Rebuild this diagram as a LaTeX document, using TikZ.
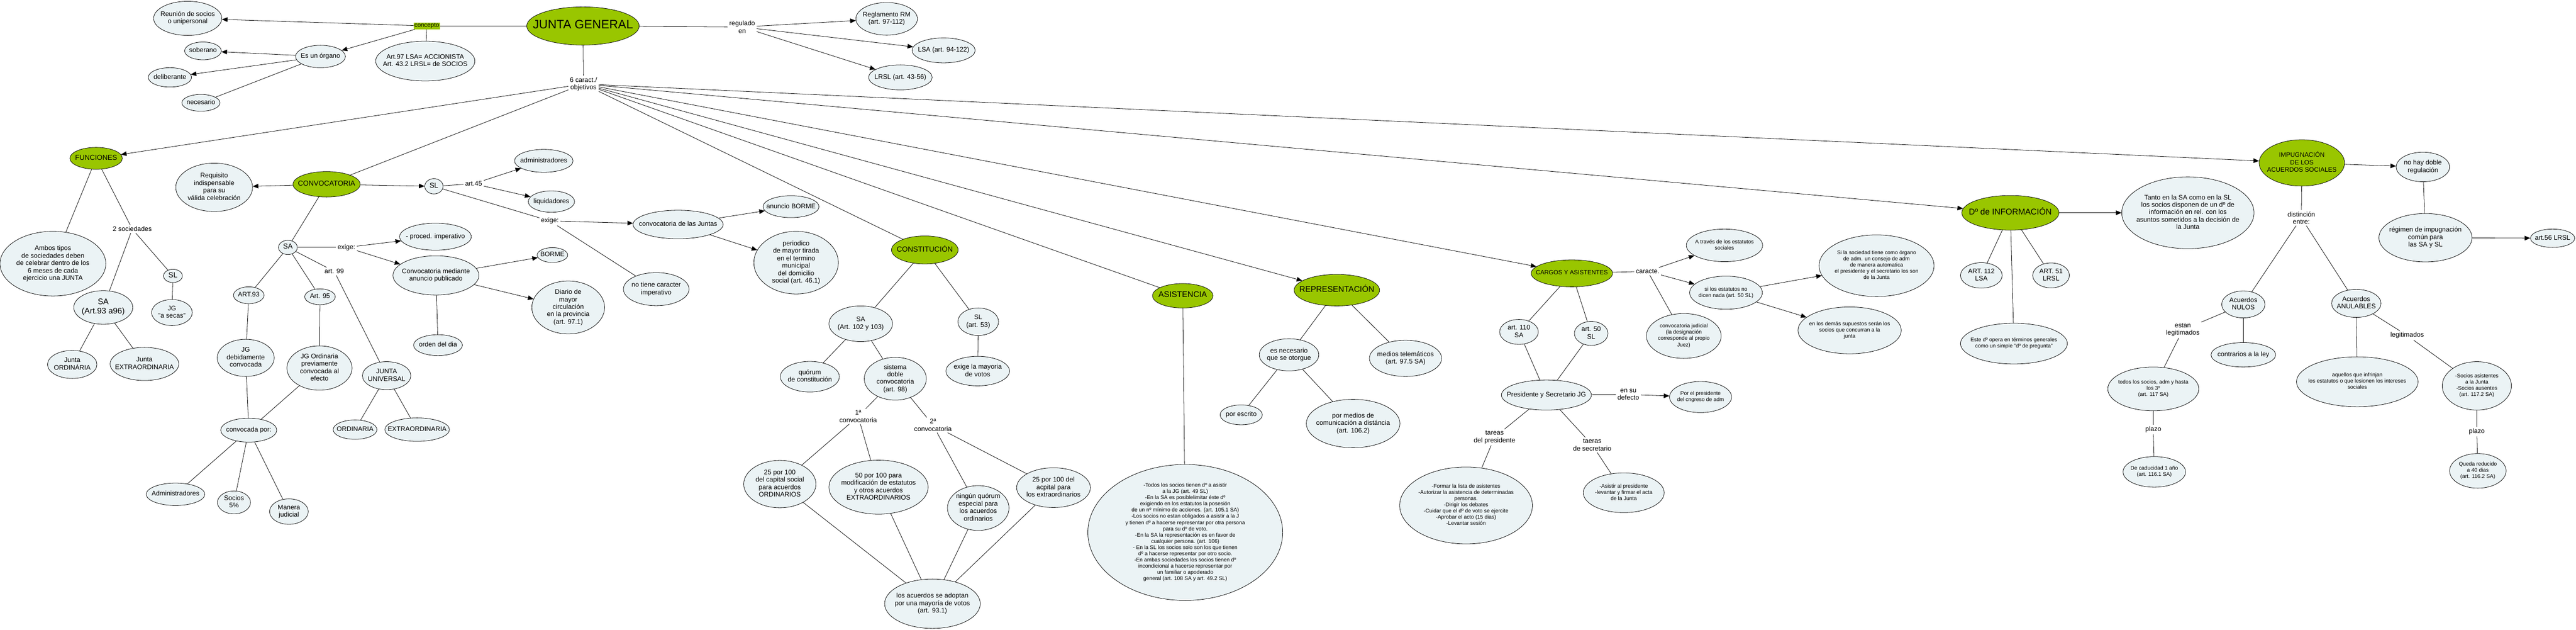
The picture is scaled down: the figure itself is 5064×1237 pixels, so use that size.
\documentclass[tikz,border=0pt]{standalone}
\usepackage{fontspec}
\setmainfont{Liberation Sans}
\usetikzlibrary{shapes.geometric,arrows.meta}
\definecolor{gr}{RGB}{153,198,0}
\definecolor{nb}{RGB}{235,243,245}
\newcommand\tx[1]{\makebox[0pt]{\smash{\raisebox{-0.25em}{\begin{tabular}{@{}c@{}}#1\end{tabular}}}}}
\begin{document}
\begin{tikzpicture}[x=1pt,y=-1pt,
  cn/.style={ellipse,draw,fill=nb,inner sep=0pt,line width=0.8pt,font=\fontsize{13}{14.6}\selectfont},
  gn/.style={cn,fill=gr},
  sm/.style={font=\fontsize{10.5}{12.2}\selectfont},
  wh/.style 2 args={minimum width=#1pt,minimum height=#2pt},
  lb/.style={inner sep=3pt,align=center,font=\fontsize{13}{14.6}\selectfont},
  ln/.style={line width=0.8pt},
  ar/.style={ln,-{Triangle[length=11pt,width=9pt]}}]
\useasboundingbox (0,0) rectangle (5064,1237);
\fill[white] (0,0) rectangle (5064,1237);
% ---------- green nodes
\node[gn,wh={221}{75},font=\fontsize{24}{26}\selectfont] (jg) at (1146,51) {\tx{JUNTA GENERAL}};
\node[gn,wh={103}{43},font=\fontsize{14}{16}\selectfont] (fun) at (189,311) {\tx{FUNCIONES}};
\node[gn,wh={132}{50},font=\fontsize{14}{16}\selectfont] (conv) at (642,362) {\tx{CONVOCATORIA}};
\node[gn,wh={131}{55},font=\fontsize{14.5}{16}\selectfont] (cons) at (1818,491) {\tx{CONSTITUCIÓN}};
\node[gn,wh={119}{48},font=\fontsize{16}{18}\selectfont] (asis) at (2325,581) {\tx{ASISTENCIA}};
\node[gn,wh={168}{62},font=\fontsize{16}{18}\selectfont] (rep) at (2628,570) {\tx{REPRESENTACIÓN}};
\node[gn,wh={160}{53},font=\fontsize{12}{14}\selectfont] (cargos) at (3090,537) {\tx{CARGOS Y ASISTENTES}};
\node[gn,wh={191}{68},font=\fontsize{16.5}{18}\selectfont] (info) at (3952,418) {\tx{Dº de INFORMACIÓN}};
\node[gn,wh={168}{91},font=\fontsize{12.5}{14.8}\selectfont] (imp) at (4525,320) {\tx{IMPUGNACIÓN\\DE LOS\\ACUERDOS SOCIALES}};
% ---------- labels
\node[lb,fill=gr,inner sep=1.5pt,font=\fontsize{12}{13}\selectfont] (lconc) at (839,51) {concepto};
\node[lb] (lreg) at (1459,53) {regulado\\en};
\node[lb] (lcar) at (1147,165) {6 caract./\\objetivos};
\node[lb] (l2soc) at (260,450) {2 sociedades};
\node[lb] (lexsa) at (681,486) {exige:};
\node[lb] (lart99) at (657,533) {art. 99};
\node[lb] (lart45) at (931,361) {art.45};
\node[lb] (lexsl) at (1081,434) {exige:};
\node[lb] (l1c) at (1687,818) {1ª\\convocatoria};
\node[lb] (l2c) at (1834,835) {2ª\\convocatoria};
\node[lb] (lcaracte) at (3239,533) {caracte.};
\node[lb] (ldef) at (3201,775) {en su\\defecto};
\node[lb] (ltp) at (2938,859) {tareas\\del presidente};
\node[lb] (lts) at (3130,874) {taeras\\de secretario};
\node[lb] (ldist) at (4524,428) {distinción\\entre:};
\node[lb] (lestan) at (4291,648) {estan\\legitimados};
\node[lb] (lleg) at (4732,659) {legitimados};
\node[lb] (lpl1) at (4233,844) {plazo};
\node[lb] (lpl2) at (4869,848) {plazo};
% ---------- concept / regulation
\node[cn,wh={134}{67}] (reu) at (369,36) {\tx{Reunión de socios\\o unipersonal}};
\node[cn,wh={98}{44}] (org) at (630,111) {\tx{Es un órgano}};
\node[cn,wh={72}{35}] (sob) at (399,100) {\tx{soberano}};
\node[cn,wh={85}{38}] (del) at (334,152) {\tx{deliberante}};
\node[cn,wh={75}{33}] (nec) at (395,202) {\tx{necesario}};
\node[cn,wh={195}{78}] (art97) at (836,120) {\tx{Art.97 LSA= ACCIONISTA\\Art. 43.2 LRSL= de SOCIOS}};
\node[cn,wh={121}{64}] (rrm) at (1743,37) {\tx{Reglamento RM\\(art. 97-112)}};
\node[cn,wh={124}{49}] (lsa) at (1855,99) {\tx{LSA (art. 94-122)}};
\node[cn,wh={125}{49}] (lrsl) at (1770,152) {\tx{LRSL (art. 43-56)}};
% ---------- funciones
\node[cn,wh={208}{127}] (ambos) at (104,518) {\tx{Ambos tipos\\de sociedades deben\\de celebrar dentro de los\\6 meses de cada\\ejercicio una JUNTA}};
\node[cn,wh={37}{26},font=\fontsize{14.5}{16}\selectfont] (slf) at (340,542) {\tx{SL}};
\node[cn,wh={116}{66},font=\fontsize{16}{18}\selectfont] (saf) at (203,604) {\tx{SA\\(Art.93 a96)}};
\node[cn,wh={80}{51}] (jgs) at (338,614) {\tx{JG\\"a secas"}};
\node[cn,wh={97}{55}] (jord) at (142,716) {\tx{Junta\\ORDINÁRIA}};
\node[cn,wh={135}{65}] (jext) at (284,715) {\tx{Junta\\EXTRAORDINARIA}};
% ---------- convocatoria
\node[cn,wh={151}{95}] (req) at (421,368) {\tx{Requisito\\indispensable\\para su\\válida celebración}};
\node[cn,wh={36}{30},font=\fontsize{14}{16}\selectfont] (slc) at (853,366) {\tx{SL}};
\node[cn,wh={37}{28},font=\fontsize{14}{16}\selectfont] (sac) at (566,486) {\tx{SA}};
\node[cn,wh={141}{53}] (proc) at (856,465) {\tx{- proced. imperativo}};
\node[cn,wh={169}{77}] (cmed) at (857,541) {\tx{Convocatoria mediante\\anuncio publicado}};
\node[cn,wh={60}{33}] (a93) at (489,580) {\tx{ART.93}};
\node[cn,wh={60}{31}] (a95) at (629,583) {\tx{Art. 95}};
\node[cn,wh={112}{73}] (jgdeb) at (483,703) {\tx{JG\\debidamente\\convocada}};
\node[cn,wh={128}{87}] (jgord) at (628,723) {\tx{JG Ordinaria\\previamente\\convocada al\\efecto}};
\node[cn,wh={95}{55}] (juni) at (760,738) {\tx{JUNTA\\UNIVERSAL}};
\node[cn,wh={110}{47}] (cpor) at (489,845) {\tx{convocada por:}};
\node[cn,wh={86}{38}] (ord) at (698,844) {\tx{ORDINARIA}};
\node[cn,wh={127}{46}] (ext) at (820,844) {\tx{EXTRAORDINARIA}};
\node[cn,wh={115}{44}] (adm2) at (345,971) {\tx{Administradores}};
\node[cn,wh={65}{45}] (soc5) at (460,987) {\tx{Socios\\5\%}};
\node[cn,wh={76}{50}] (jud) at (568,1005) {\tx{Manera\\judicial}};
\node[cn,wh={115}{45}] (adm) at (1069,316) {\tx{administradores}};
\node[cn,wh={91}{42}] (liq) at (1084,396) {\tx{liquidadores}};
\node[cn,wh={177}{56}] (cjun) at (1333,441) {\tx{convocatoria de las Juntas}};
\node[cn,wh={110}{43}] (aborme) at (1555,406) {\tx{anuncio BORME}};
\node[cn,wh={166}{123}] (per) at (1565,516) {\tx{periodico\\de mayor tirada\\en el termino\\municipal\\del domicilio\\social (art. 46.1)}};
\node[cn,wh={129}{65}] (noimp) at (1290,568) {\tx{no tiene caracter\\imperativo}};
\node[cn,wh={60}{29}] (borme) at (1086,501) {\tx{BORME}};
\node[cn,wh={143}{104}] (diario) at (1117,604) {\tx{Diario de\\mayor\\circulación\\en la provincia\\(art. 97.1)}};
\node[cn,wh={96}{41}] (odia) at (861,678) {\tx{orden del dia}};
% ---------- constitucion
\node[cn,wh={125}{70}] (sacons) at (1692,636) {\tx{SA\\(Art. 102 y 103)}};
\node[cn,wh={80}{54}] (slcons) at (1923,632) {\tx{SL\\(art. 53)}};
\node[cn,wh={125}{58}] (exmay) at (1922,729) {\tx{exige la mayoria\\de votos}};
\node[cn,wh={116}{60}] (quor) at (1592,740) {\tx{quórum\\de constitución}};
\node[cn,wh={122}{84}] (sist) at (1760,744) {\tx{sistema\\doble\\convocatoria\\(art. 98)}};
\node[cn,wh={142}{93}] (q25) at (1533,951) {\tx{25 por 100\\del capital social\\para acuerdos\\ORDINARIOS}};
\node[cn,wh={195}{106}] (q50) at (1727,957) {\tx{50 por 100 para\\modificación de estatutos\\y otros acuerdos\\EXTRAORDINARIOS}};
\node[cn,wh={121}{88}] (qnin) at (1923,998) {\tx{ningún quórum\\especial para\\los acuerdos\\ordinarios}};
\node[cn,wh={145}{78}] (q25e) at (2071,958) {\tx{25 por 100 del\\acpital para\\los extraordinarios}};
\node[cn,wh={188}{97}] (acu) at (1833,1186) {\tx{los acuerdos se adoptan\\por una mayoría de votos\\(art. 93.1)}};
% ---------- asistencia
\node[cn,sm,wh={383}{267}] (todos) at (2330,1046) {\tx{-Todos los socios tienen dº a asistir\\a la JG (art. 49 SL)\\-En la SA es posiblelimitar éste dº\\exigiendo en los estatutos la posesión\\de un nº mínimo de acciones. (art. 105.1 SA)\\-Los socios no estan obligados a asistir a la J\\y tienen dº a hacerse representar por otra persona\\para su dº de voto.\\-En la SA la representación es en favor de\\cualquier persona. (art. 106)\\- En la SL los socios solo son los que tienen\\dº a hacerse representar por otro socio.\\-En ambas sociedades los socios tienen dº\\incondicional a hacerse representar por\\un familiar o apoderado\\general (art. 108 SA y art. 49.2 SL)}};
% ---------- representacion
\node[cn,wh={117}{63}] (nec2) at (2534,697) {\tx{es necesario\\que se otorgue}};
\node[cn,wh={83}{39}] (escr) at (2440,815) {\tx{por escrito}};
\node[cn,wh={142}{71}] (tele) at (2763,704) {\tx{medios telemáticos\\(art. 97.5 SA)}};
\node[cn,wh={184}{95}] (dist) at (2660,832) {\tx{por medios de\\comunicación a distáncia\\(art. 106.2)}};
% ---------- cargos
\node[cn,wh={76}{49}] (a110) at (2986,652) {\tx{art. 110\\SA}};
\node[cn,wh={66}{47}] (a50) at (3128,655) {\tx{art. 50\\SL}};
\node[cn,sm,wh={147}{88}] (cjud) at (3310,660) {\tx{convocatoria judicial\\(la designación\\corresponde al propio\\Juez)}};
\node[cn,wh={177}{59}] (pres) at (3040,776) {\tx{Presidente y Secretario JG}};
\node[cn,sm,wh={122}{61}] (ppres) at (3343,780) {\tx{Por el presidente\\del cngreso de adm}};
\node[cn,sm,wh={261}{151}] (tpres) at (2882,993) {\tx{-Formar la lista de asistentes\\-Autorizar la asistencia de determinadas\\personas.\\-Dirigir los debates\\-Cuidar que el dº de voto se ejercite\\-Aprobar el acto (15 dias)\\-Levantar sesión}};
\node[cn,sm,wh={159}{78}] (tsec) at (3192,968) {\tx{-Asistir al presidente\\-levantar y firmar el acta\\de la Junta}};
\node[cn,sm,wh={150}{64}] (atra) at (3390,482) {\tx{A través de los estatutos\\sociales}};
\node[cn,sm,wh={143}{65}] (silos) at (3393,575) {\tx{si los estatutos no\\dicen nada (art. 50 SL)}};
\node[cn,sm,wh={226}{121}] (sisoc) at (3689,522) {\tx{Si la sociedad tiene como órgano\\de adm. un consejo de adm\\de manera automatica\\el presidente y el secretario los son\\de la Junta}};
\node[cn,sm,wh={203}{92}] (demas) at (3636,649) {\tx{en los demás supuestos serán los\\socios que concurran a la\\junta}};
% ---------- informacion
\node[cn,wh={82}{50}] (a112) at (3895,541) {\tx{ART. 112\\LSA}};
\node[cn,wh={72}{49}] (a51) at (4032,541) {\tx{ART. 51\\LRSL}};
\node[cn,sm,wh={210}{80}] (este) at (3959,675) {\tx{Este dº opera en términos generales\\como un simple "dº de pregunta"}};
\node[cn,wh={260}{141}] (tanto) at (4301,418) {\tx{Tanto en la SA como en la SL\\los socios disponen de un dº de\\información en rel. con los\\asuntos sometidos a la decisión de\\la Junta}};
% ---------- impugnacion
\node[cn,wh={105}{58}] (nodob) at (4763,328) {\tx{no hay doble\\regulación}};
\node[cn,wh={183}{95}] (reg) at (4768,467) {\tx{régimen de impugnación\\común para\\las SA y SL}};
\node[cn,wh={87}{36}] (a56) at (5018,468) {\tx{art.56 LRSL}};
\node[cn,wh={85}{53}] (nul) at (4410,598) {\tx{Acuerdos\\NULOS}};
\node[cn,wh={97}{55}] (anu) at (4632,596) {\tx{Acuerdos\\ANULABLES}};
\node[cn,wh={127}{48}] (contr) at (4410,697) {\tx{contrarios a la ley}};
\node[cn,sm,wh={179}{86}] (tsoc) at (4233,764) {\tx{todos los socios, adm y hasta\\los 3º\\(art. 117 SA)}};
\node[cn,sm,wh={123}{60}] (cad) at (4235,927) {\tx{De caducidad 1 año\\(art. 116.1 SA)}};
\node[cn,sm,wh={239}{98}] (aque) at (4634,750) {\tx{aquellos que infrinjan\\los estatutos o que lesionen los intereses\\sociales}};
\node[cn,sm,wh={136}{95}] (sasis) at (4869,758) {\tx{-Socios asistentes\\a la Junta\\-Socios ausentes\\(art. 117.2 SA)}};
\node[cn,sm,wh={111}{68}] (qred) at (4871,925) {\tx{Queda reducido\\a 40 dias\\(art. 116.2 SA)}};
% ================= connectors
\draw[ln] (jg) -- (lconc);
\draw[ar] (lconc) -- (reu);
\draw[ar] (lconc) -- (org);
\draw[ln] (lconc) -- (art97);
\draw[ar] (org) -- (sob);
\draw[ar] (org) -- (del);
\draw[ln] (org) -- (nec);
\draw[ln] (jg) -- (lreg);
\draw[ar] (lreg) -- (rrm);
\draw[ar] (lreg) -- (lsa);
\draw[ar] (lreg) -- (lrsl);
\draw[ln] (jg) -- (lcar);
\draw[ar] (lcar) -- (fun);
\draw[ln] (lcar) -- (conv);
\draw[ln] (lcar) -- (cons);
\draw[ln] (lcar) -- (asis);
\draw[ar] (lcar) -- (rep);
\draw[ar] (lcar) -- (cargos);
\draw[ar] (lcar) -- (info);
\draw[ar] (lcar) -- (imp);
% funciones
\draw[ln] (fun) -- (ambos);
\draw[ln] (fun) -- (l2soc);
\draw[ln] (l2soc) -- (saf);
\draw[ln] (l2soc) -- (slf);
\draw[ln] (slf) -- (jgs);
\draw[ln] (saf) -- (jord);
\draw[ln] (saf) -- (jext);
% convocatoria
\draw[ar] (conv) -- (req);
\draw[ar] (conv) -- (slc);
\draw[ln] (conv) -- (sac);
\draw[ln] (slc) -- (lart45);
\draw[ar] (lart45) -- (adm);
\draw[ar] (lart45) -- (liq);
\draw[ln] (slc) -- (lexsl);
\draw[ar] (lexsl) -- (cjun);
\draw[ln] (lexsl) -- (noimp);
\draw[ar] (cjun) -- (aborme);
\draw[ar] (cjun) -- (per);
\draw[ln] (sac) -- (lexsa);
\draw[ar] (lexsa) -- (proc);
\draw[ar] (lexsa) -- (cmed);
\draw[ar] (cmed) -- (borme);
\draw[ar] (cmed) -- (diario);
\draw[ln] (cmed) -- (odia);
\draw[ln] (sac) -- (a93);
\draw[ln] (sac) -- (a95);
\draw[ln] (sac) -- (lart99);
\draw[ln] (lart99) -- (juni);
\draw[ln] (a93) -- (jgdeb);
\draw[ln] (a95) -- (jgord);
\draw[ln] (jgdeb) -- (cpor);
\draw[ln] (jgord) -- (cpor);
\draw[ln] (cpor) -- (adm2);
\draw[ln] (cpor) -- (soc5);
\draw[ln] (cpor) -- (jud);
\draw[ln] (juni) -- (ord);
\draw[ln] (juni) -- (ext);
% constitucion
\draw[ln] (cons) -- (sacons);
\draw[ln] (cons) -- (slcons);
\draw[ln] (slcons) -- (exmay);
\draw[ln] (sacons) -- (quor);
\draw[ln] (sacons) -- (sist);
\draw[ln] (sist) -- (l1c);
\draw[ln] (sist) -- (l2c);
\draw[ln] (l1c) -- (q25);
\draw[ln] (l1c) -- (q50);
\draw[ln] (l2c) -- (qnin);
\draw[ln] (l2c) -- (q25e);
\draw[ln] (q25) -- (acu);
\draw[ln] (q50) -- (acu);
\draw[ln] (qnin) -- (acu);
\draw[ln] (q25e) -- (acu);
% asistencia / representacion
\draw[ln] (asis) -- (todos);
\draw[ln] (rep) -- (nec2);
\draw[ln] (rep) -- (tele);
\draw[ln] (nec2) -- (escr);
\draw[ln] (nec2) -- (dist);
% cargos
\draw[ln] (cargos) -- (a110);
\draw[ln] (cargos) -- (a50);
\draw[ln] (a110) -- (pres);
\draw[ln] (a50) -- (pres);
\draw[ln] (cargos) -- (lcaracte);
\draw[ar] (lcaracte) -- (atra);
\draw[ar] (lcaracte) -- (silos);
\draw[ln] (lcaracte) -- (cjud);
\draw[ar] (silos) -- (sisoc);
\draw[ar] (silos) -- (demas);
\draw[ln] (pres) -- (ldef);
\draw[ar] (ldef) -- (ppres);
\draw[ln] (pres) -- (ltp);
\draw[ln] (ltp) -- (tpres);
\draw[ln] (pres) -- (lts);
\draw[ln] (lts) -- (tsec);
% informacion
\draw[ar] (info) -- (tanto);
\draw[ln] (info) -- (a112);
\draw[ln] (info) -- (a51);
\draw[ln] (info) -- (este);
% impugnacion
\draw[ar] (imp) -- (nodob);
\draw[ln] (nodob) -- (reg);
\draw[ar] (reg) -- (a56);
\draw[ln] (imp) -- (ldist);
\draw[ln] (ldist) -- (nul);
\draw[ln] (ldist) -- (anu);
\draw[ln] (nul) -- (lestan);
\draw[ln] (lestan) -- (tsoc);
\draw[ln] (nul) -- (contr);
\draw[ln] (tsoc) -- (lpl1);
\draw[ln] (lpl1) -- (cad);
\draw[ln] (anu) -- (aque);
\draw[ln] (anu) -- (lleg);
\draw[ln] (lleg) -- (sasis);
\draw[ln] (sasis) -- (lpl2);
\draw[ln] (lpl2) -- (qred);
\end{tikzpicture}
\end{document}
